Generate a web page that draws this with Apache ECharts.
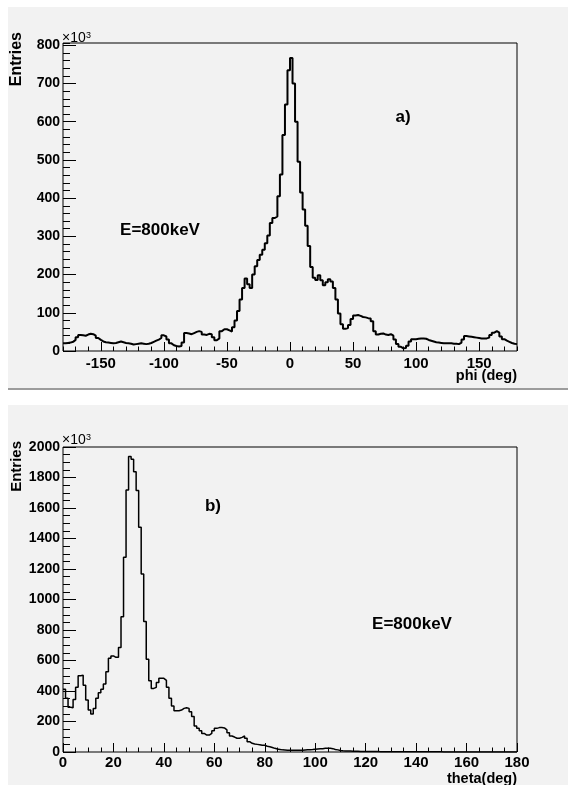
<!DOCTYPE html>
<html>
<head>
<meta charset="utf-8">
<script src="https://cdn.jsdelivr.net/npm/echarts@6/dist/echarts.min.js"></script>
<style>
html,body{margin:0;padding:0;background:#fff;}
#c{width:568px;height:785px;}
</style>
</head>
<body>
<div id="c"></div>
<script>
// ---- phi histogram (x10^3 entries), 2-degree bins from -180 ----
const phiBinStart = -180;
const phiBinWidth = 2;
const phiCounts = [
  20,21,22,24,29,36,42,41,40,43,
  45,44,40,34,29,25,23,22,21,20,
  21,23,25,23,21,20,19,17,18,19,
  20,19,18,19,21,24,27,30,34,41,
  38,30,20,15,13,12,13,22,47,46,
  44,47,50,52,50,43,42,45,44,36,
  28,33,52,57,57,54,51,62,80,105,
  135,165,190,175,165,200,222,238,252,265,
  282,302,335,348,352,405,462,565,645,735,
  767,700,600,495,415,370,328,275,220,192,
  186,198,185,172,180,188,182,165,135,98,
  70,58,60,68,84,93,94,92,89,88,
  86,85,78,52,43,45,46,43,42,44,
  40,30,18,11,7,8,14,25,31,31,
  32,33,33,32,29,27,25,23,22,21,
  20,20,20,20,19,19,18,22,30,39,
  38,37,36,35,34,33,33,33,35,42,
  48,52,48,38,31,27,24,21,19,18
];
// ---- theta histogram (x10^3 entries), 1-degree bins from 0 ----
const thetaBinStart = 0;
const thetaBinWidth = 1;
const thetaCounts = [
  411,352,293,290,345,424,500,503,437,341,
  275,249,286,352,389,411,446,527,614,630,
  621,621,686,887,1277,1718,1937,1919,1838,1714,
  1473,1167,855,608,468,417,424,455,483,483,
  470,424,352,302,271,271,275,286,290,286,
  264,232,170,155,140,122,111,111,122,140,
  155,160,160,158,145,127,105,98,90,90,
  96,105,90,68,57,52,50,48,44,44,
  38,35,30,24,20,17,14,13,12,12,
  12,11,11,12,12,13,14,15,16,18,
  20,21,22,24,25,25,22,17,14,10,
  8,7,6,6,5,5,5,4,4,4,
  3,3,3,3,3,2,2,2,2,2,
  2,2,2,2,2,1,1,1,1,1,
  1,1,1,1,1,1,1,1,1,1,
  0,0,0,0,0,0,0,0,0,0,
  0,0,0,0,0,0,0,0,0,0,
  0,0,0,0,0,0,0,0,0,0
];
// ---- tick labels ----
const phiXTicks = [-150,-100,-50,0,50,100,150];
const phiYTicks = [0,100,200,300,400,500,600,700,800];
const phiTitle = 'phi (deg)';
const thetaTitle = 'theta(deg)';
const yTitle = 'Entries';
const energyLabel = 'E=800keV';

function histData(start, width, counts) {
  const d = counts.map((v, i) => [start + i * width, v]);
  d.push([start + counts.length * width, counts[counts.length - 1]]);
  return d;
}

const FONT = '"Liberation Sans", Arial, Helvetica, sans-serif';
const black = '#000';
const plain = v => String(v);
const xLabel = {color: black, fontWeight: 'bold', fontSize: 15, fontFamily: FONT, formatter: plain};
const yLabel = {color: black, fontWeight: 'bold', fontSize: 14, fontFamily: FONT, margin: 3, formatter: plain};
const tickStyle = {color: black, width: 1};
const noLine = {show: false, onZero: false};

const chart = echarts.init(document.getElementById('c'), null, {renderer: 'canvas'});
chart.setOption({
  backgroundColor: 'transparent',
  animation: false,
  grid: [
    {left: 63, top: 43, width: 454, height: 308, show: true, borderColor: black, borderWidth: 1, backgroundColor: 'transparent'},
    {left: 63, top: 447, width: 454, height: 305, show: true, borderColor: black, borderWidth: 1, backgroundColor: 'transparent'}
  ],
  xAxis: [
    {gridIndex: 0, type: 'value', position: 'bottom', min: -180, max: 180, interval: 10,
      axisLine: noLine, axisTick: {inside: true, length: 4.5, lineStyle: tickStyle},
      axisLabel: {show: false}, splitLine: {show: false}},
    {gridIndex: 0, type: 'value', position: 'bottom', min: -180, max: 180,
      axisLine: noLine,
      axisTick: {inside: true, length: 9, lineStyle: tickStyle, customValues: phiXTicks},
      axisLabel: Object.assign({}, xLabel, {customValues: phiXTicks, margin: 5}),
      splitLine: {show: false}},
    {gridIndex: 1, type: 'value', position: 'bottom', min: 0, max: 180, interval: 20,
      axisLine: noLine,
      axisTick: {inside: true, length: 9, lineStyle: tickStyle},
      minorTick: {show: true, splitNumber: 4, length: 4.5, lineStyle: tickStyle},
      axisLabel: Object.assign({}, xLabel, {margin: 3}),
      splitLine: {show: false}, minorSplitLine: {show: false}}
  ],
  yAxis: [
    {gridIndex: 0, type: 'value', position: 'left', min: 0, max: 806, interval: 20,
      axisLine: noLine, axisTick: {inside: true, length: 7, lineStyle: tickStyle},
      axisLabel: {show: false}, splitLine: {show: false}},
    {gridIndex: 0, type: 'value', position: 'left', min: 0, max: 806,
      axisLine: noLine,
      axisTick: {inside: true, length: 13, lineStyle: tickStyle, customValues: phiYTicks},
      axisLabel: Object.assign({}, yLabel, {customValues: phiYTicks}),
      splitLine: {show: false}},
    {gridIndex: 1, type: 'value', position: 'left', min: 0, max: 2000, interval: 200,
      axisLine: noLine,
      axisTick: {inside: true, length: 13, lineStyle: tickStyle},
      minorTick: {show: true, splitNumber: 4, length: 7, lineStyle: tickStyle},
      axisLabel: yLabel,
      splitLine: {show: false}, minorSplitLine: {show: false}}
  ],
  series: [
    {type: 'line', xAxisIndex: 0, yAxisIndex: 0, step: 'end', symbol: 'none',
      data: histData(phiBinStart, phiBinWidth, phiCounts),
      lineStyle: {color: black, width: 2}, z: 5},
    {type: 'line', xAxisIndex: 2, yAxisIndex: 2, step: 'end', symbol: 'none',
      data: histData(thetaBinStart, thetaBinWidth, thetaCounts),
      lineStyle: {color: black, width: 1.5}, z: 5}
  ],
  graphic: [
    {type: 'rect', z: -1, silent: true, shape: {x: 8, y: 7, width: 560, height: 382}, style: {fill: '#f2f2f2'}},
    {type: 'line', z: -1, silent: true, shape: {x1: 8, y1: 389, x2: 568, y2: 389}, style: {stroke: '#9c9c9c', lineWidth: 2}},
    {type: 'rect', z: -1, silent: true, shape: {x: 8, y: 405, width: 560, height: 380}, style: {fill: '#f2f2f2'}},
    // top panel texts
    {type: 'text', x: 17, y: 32, rotation: Math.PI / 2, style: {text: yTitle, font: 'bold 16px ' + FONT, fill: black, textAlign: 'right', textVerticalAlign: 'middle'}},
    {type: 'text', x: 62, y: 45, style: {text: '×10', font: '14px ' + FONT, fill: black, textAlign: 'left', textVerticalAlign: 'bottom'}},
    {type: 'text', x: 86, y: 31, style: {text: '3', font: '9px ' + FONT, fill: black, textAlign: 'left', textVerticalAlign: 'top'}},
    {type: 'text', x: 403, y: 117, style: {text: 'a)', font: 'bold 17px ' + FONT, fill: black, textAlign: 'center', textVerticalAlign: 'middle'}},
    {type: 'text', x: 160, y: 230, style: {text: energyLabel, font: 'bold 17px ' + FONT, fill: black, textAlign: 'center', textVerticalAlign: 'middle'}},
    {type: 'text', x: 517, y: 376, style: {text: phiTitle, font: 'bold 14.5px ' + FONT, fill: black, textAlign: 'right', textVerticalAlign: 'middle'}},
    // bottom panel texts
    {type: 'text', x: 17, y: 441, rotation: Math.PI / 2, style: {text: yTitle, font: 'bold 15px ' + FONT, fill: black, textAlign: 'right', textVerticalAlign: 'middle'}},
    {type: 'text', x: 62, y: 447, style: {text: '×10', font: '14px ' + FONT, fill: black, textAlign: 'left', textVerticalAlign: 'bottom'}},
    {type: 'text', x: 86, y: 433, style: {text: '3', font: '9px ' + FONT, fill: black, textAlign: 'left', textVerticalAlign: 'top'}},
    {type: 'text', x: 213, y: 506, style: {text: 'b)', font: 'bold 17px ' + FONT, fill: black, textAlign: 'center', textVerticalAlign: 'middle'}},
    {type: 'text', x: 412, y: 624, style: {text: energyLabel, font: 'bold 17px ' + FONT, fill: black, textAlign: 'center', textVerticalAlign: 'middle'}},
    {type: 'text', x: 517, y: 779, style: {text: thetaTitle, font: 'bold 14.5px ' + FONT, fill: black, textAlign: 'right', textVerticalAlign: 'middle'}}
  ]
});
</script>
</body>
</html>
